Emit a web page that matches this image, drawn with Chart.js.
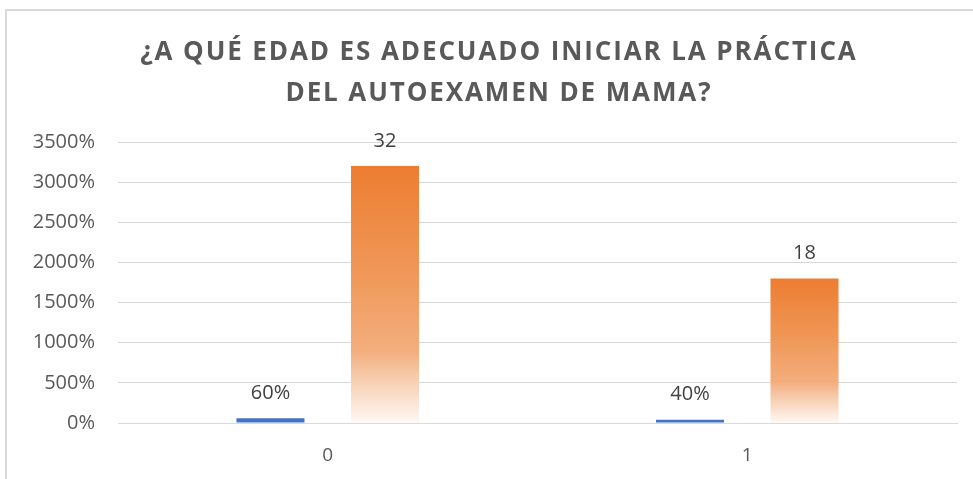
<!DOCTYPE html>
<html>
<head>
<meta charset="utf-8">
<script src="https://cdn.jsdelivr.net/npm/chart.js@4.4.0/dist/chart.umd.min.js"></script>
<style>
  html, body { margin: 0; padding: 0; background: #fff; overflow: hidden; }
  #frame { position: absolute; left: 5px; top: 9px; width: 1000px; height: 520px; border: 2px solid #d9d9d9; }
  #wrap { position: absolute; left: 0; top: 0; width: 973px; height: 479px; }
</style>
</head>
<body>
<div id="frame"></div>
<div id="wrap"><canvas id="chart"></canvas></div>
<script>
const titleLines = ['¿A QUÉ EDAD ES ADECUADO INICIAR LA PRÁCTICA', 'DEL AUTOEXAMEN DE MAMA?'];
const categories = ['0', '1'];
const percentValues = [0.6, 0.4];
const countValues = [32, 18];

function orangeGradient(context) {
    const chart = context.chart;
    const area = chart.chartArea;
    if (!area || context.dataIndex === undefined) return '#ED7D31';
    const y = chart.scales.y;
    const top = y.getPixelForValue(context.raw);
    const bottom = y.getPixelForValue(0);
    const g = chart.ctx.createLinearGradient(0, top, 0, bottom);
    g.addColorStop(0, '#ED7D31');
    g.addColorStop(0.45, '#F09A5C');
    g.addColorStop(0.72, '#F3AE7E');
    g.addColorStop(0.84, '#F7D0B3');
    g.addColorStop(1, '#FEF8F4');
    return g;
}

const labelFormats = [v => Math.round(v * 100) + '%', v => String(v)];

const valueLabels = {
    id: 'valueLabels',
    afterDatasetsDraw(chart) {
        const ctx = chart.ctx;
        ctx.save();
        ctx.font = '20px "Open Sans"';
        ctx.fillStyle = '#404040';
        ctx.textAlign = 'center';
        ctx.textBaseline = 'middle';
        chart.data.datasets.forEach((ds, i) => {
            chart.getDatasetMeta(i).data.forEach((bar, j) => {
                ctx.fillText(labelFormats[i](ds.data[j]), bar.x, bar.y - 25);
            });
        });
        ctx.restore();
    }
};

// title drawn by hand so it can be letter-spaced like the original
const spacedTitle = {
    id: 'spacedTitle',
    afterDraw(chart) {
        const ctx = chart.ctx;
        ctx.save();
        ctx.font = 'bold 26px "Open Sans"';
        ctx.fillStyle = '#595959';
        ctx.textAlign = 'center';
        ctx.textBaseline = 'middle';
        if ('letterSpacing' in ctx) ctx.letterSpacing = '1.9px';
        titleLines.forEach((line, i) => ctx.fillText(line, 499, 53 + i * 41));
        ctx.restore();
    }
};

const context = document.getElementById('chart').getContext('2d');
new Chart(context, {
    type: 'bar',
    data: {
        labels: categories,
        datasets: [{
            data: percentValues,
            backgroundColor: '#4472C4',
            categoryPercentage: 0.546,
            barPercentage: 0.594
        }, {
            data: countValues,
            backgroundColor: orangeGradient,
            categoryPercentage: 0.546,
            barPercentage: 0.594
        }]
    },
    options: {
        responsive: true,
        maintainAspectRatio: false,
        animation: false,
        layout: { padding: { left: 0, right: 16, top: 142, bottom: 13 } },
        plugins: {
            legend: { display: false },
            tooltip: { enabled: false },
            title: { display: false }
        },
        scales: {
            x: {
                afterFit(scale) { scale.height = 43; },
                grid: { display: false, drawTicks: false },
                border: { display: true, color: '#d9d9d9', width: 1 },
                ticks: { color: '#595959', font: { family: '"Open Sans"', size: 19 }, padding: 21 }
            },
            y: {
                min: 0,
                max: 35,
                afterFit(scale) { scale.width = 118; },
                grid: { color: '#d9d9d9', drawTicks: false },
                border: { display: false },
                ticks: {
                    stepSize: 5,
                    padding: 23,
                    color: '#595959',
                    font: { family: '"Open Sans"', size: 20 },
                    callback: v => (v * 100) + '%'
                }
            }
        }
    },
    plugins: [valueLabels, spacedTitle]
});
</script>
</body>
</html>
